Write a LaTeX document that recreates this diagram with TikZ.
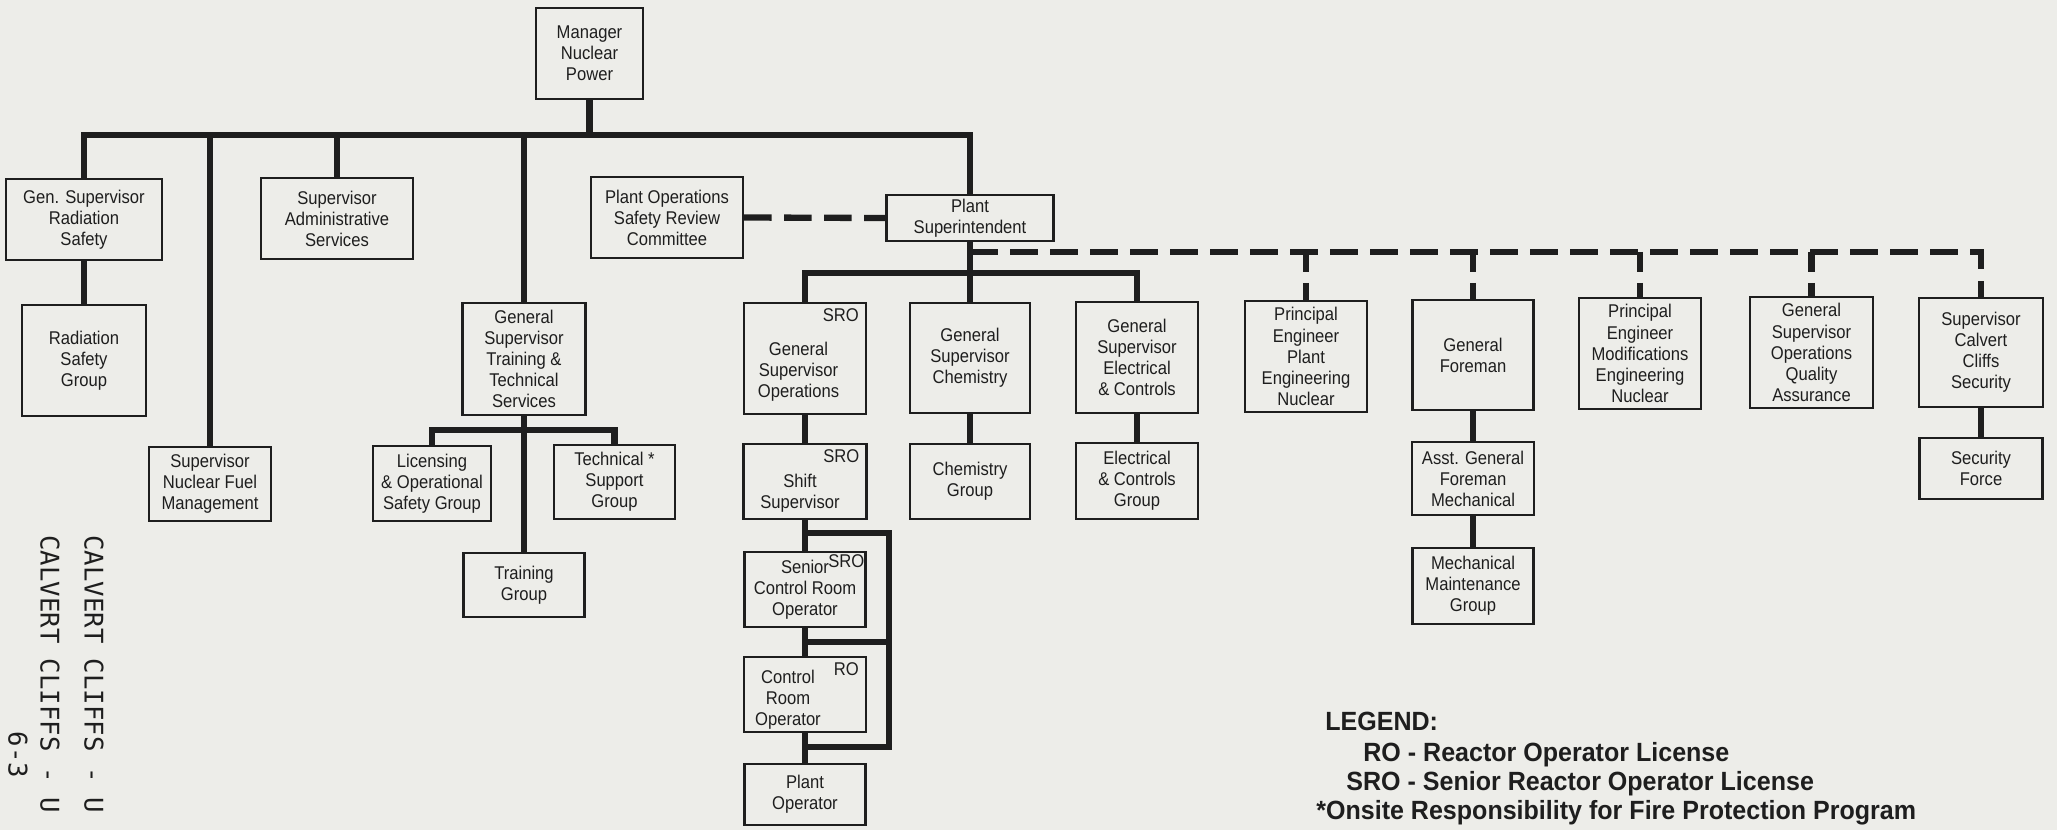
\documentclass[tikz,border=0pt]{standalone}
\usepackage{fontspec}
\setmainfont{Liberation Sans}
\newfontfamily\boxfont[FakeStretch=0.9]{Liberation Sans}
\newfontfamily\legendfont[FakeStretch=0.95]{Liberation Sans}
\newfontfamily\sidefont{DejaVu Sans Mono}
\usetikzlibrary{positioning}
\definecolor{ScanPaper}{HTML}{EDEDE9}
\definecolor{ScanInk}{HTML}{1E1E1E}
% text set lower (and to the left) inside its box
\newcommand{\offsetlines}[3]{\raisebox{-#1}[\height][\depth]{%
  \begin{tabular}{@{}c@{\hspace{#2}}}#3\end{tabular}}}

\begin{document}
\begin{tikzpicture}[x=0.2mm,y=-0.2mm,
    box/.style={draw=ScanInk,line width=1.3pt,align=center,inner sep=1pt,
      text=ScanInk,font=\boxfont\fontsize{10.5}{12}\selectfont},
    sz/.style 2 args={minimum width=#1*0.2mm,minimum height=#2*0.2mm},
    tag/.style={anchor=north east,inner sep=0pt,xshift=-1.6mm,yshift=-1.2mm,
      text=ScanInk,font=\boxfont\fontsize{10.5}{12}\selectfont},
    cornertag/.style={tag,xshift=1.2mm,yshift=0.6mm},
    link/.style={draw=ScanInk,line width=3.5pt},
    staffline/.style={draw=ScanInk,line width=3.6pt,dash pattern=on 5.5mm off 2.5mm},
    staffdrop/.style={draw=ScanInk,line width=3.6pt,dash pattern=on 4mm off 2.2mm},
    legendtext/.style={anchor=west,inner sep=0pt,text=ScanInk,
      font=\legendfont\bfseries\fontsize{15}{17}\selectfont},
    sidetext/.style={inner sep=0pt,text=ScanInk,font=\sidefont\fontsize{14.6}{16}\selectfont}]
    \useasboundingbox (0,0) rectangle (2057,830);
    \fill[ScanPaper] (0,0) rectangle (2057,830);

    % top of the chart
    \node[box,sz={107}{91}] (mgr) at (589.5,53.5) {Manager\\Nuclear\\Power};
    \node[box,sz={156}{81}] (gsrad) at (84,219.5) {Gen. Supervisor\\Radiation\\Safety};
    \node[box,sz={124}{111}] (radgrp) at (84,360.5) {Radiation\\Safety\\Group};
    \node[box,sz={122}{74}] (nucfuel) at (210,484) {Supervisor\\Nuclear Fuel\\Management};
    \node[box,sz={152}{81}] (admin) at (337,218.5) {Supervisor\\Administrative\\Services};
    \node[box,sz={123}{112}] (gstrain) at (524,359)
      {General\\Supervisor\\Training \&\\Technical\\Services};
    \node[box,sz={118}{75}] (licens) at (432,483.5) {Licensing\\\& Operational\\Safety Group};
    \node[box,sz={121}{74}] (techsup) at (614.5,482) {Technical *\\Support\\Group};
    \node[box,sz={121}{64}] (traingrp) at (524,585) {Training\\Group};
    \node[box,sz={152}{81}] (posrc) at (667,217.5) {Plant Operations\\Safety Review\\Committee};
    \node[box,sz={167}{46}] (plantsup) at (970,218) {Plant\\Superintendent};

    % plant superintendent line
    \node[box,sz={122}{111},label={[tag]north east:SRO}] (gsops) at (805,358.5)
      {\offsetlines{8pt}{2.6mm}{General\\Supervisor\\Operations}};
    \node[box,sz={120}{110}] (gschem) at (970,358) {General\\Supervisor\\Chemistry};
    \node[box,sz={122}{111}] (gselec) at (1137,357.5)
      {General\\Supervisor\\Electrical\\\& Controls};
    \node[box,sz={122}{111}] (peplant) at (1306,356.5)
      {Principal\\Engineer\\Plant\\Engineering\\Nuclear};
    \node[box,sz={121}{110}] (genfore) at (1473,355) {General\\Foreman};
    \node[box,sz={122}{111}] (pemod) at (1640,353.5)
      {Principal\\Engineer\\Modifications\\Engineering\\Nuclear};
    \node[box,sz={123}{111}] (gsqa) at (1811.5,352.5)
      {General\\Supervisor\\Operations\\Quality\\Assurance};
    \node[box,sz={124}{109}] (secsup) at (1981,352.5) {Supervisor\\Calvert\\Cliffs\\Security};

    \node[box,sz={123}{75},label={[tag]north east:SRO}] (shiftsup) at (805,481.5)
      {\offsetlines{7pt}{2mm}{Shift\\Supervisor}};
    \node[box,sz={120}{75}] (chemgrp) at (970,481.5) {Chemistry\\Group};
    \node[box,sz={122}{76}] (elecgrp) at (1137,481) {Electrical\\\& Controls\\Group};
    \node[box,sz={122}{73}] (asstfore) at (1473,478.5) {Asst. General\\Foreman\\Mechanical};
    \node[box,sz={121}{76}] (mechgrp) at (1473,586) {Mechanical\\Maintenance\\Group};
    \node[box,sz={123}{61}] (secforce) at (1981,468.5) {Security\\Force};
    \node[box,sz={121}{75},label={[cornertag]north east:SRO}] (srcro) at (805,589.5)
      {Senior\\Control Room\\Operator};
    \node[box,sz={122}{75},label={[tag]north east:RO}] (cro) at (805,694.5)
      {\offsetlines{3.5pt}{6.8mm}{Control\\Room\\Operator}};
    \node[box,sz={121}{61}] (plantop) at (805,794.5) {Plant\\Operator};

    % bus heights
    \coordinate (busy) at (0,135);
    \coordinate (staffy) at (0,252);
    \coordinate (opsbusy) at (0,273);
    \coordinate (trainbusy) at (0,430);
    \coordinate (ladtop) at (889,533);
    \coordinate (ladmid) at (889,642);
    \coordinate (ladbot) at (889,747);

    % solid lines
    \draw[link] (mgr.south) -- (mgr.south |- busy);
    \draw[link] (gsrad.north) -- (gsrad.north |- busy) -- (plantsup.north |- busy)
      -- (plantsup.north);
    \foreach \n in {nucfuel,admin,gstrain}
      \draw[link] (\n.north |- busy) -- (\n.north);
    \draw[link] (gstrain.south) -- (traingrp.north);
    \draw[link] (licens.north) -- (licens.north |- trainbusy) -- (techsup.north |- trainbusy)
      -- (techsup.north);
    \draw[link] (plantsup.south) -- (plantsup.south |- opsbusy);
    \draw[link] (gsops.north) -- (gsops.north |- opsbusy) -- (gselec.north |- opsbusy)
      -- (gselec.north);
    \draw[link] (gschem.north |- opsbusy) -- (gschem.north);
    \foreach \a/\b in {gsrad/radgrp,gsops/shiftsup,shiftsup/srcro,srcro/cro,cro/plantop,
        gschem/chemgrp,gselec/elecgrp,genfore/asstfore,asstfore/mechgrp,secsup/secforce}
      \draw[link] (\a.south) -- (\b.north);
    \draw[link] (shiftsup.south |- ladtop) -- (ladtop) -- (ladbot) -- (plantop.north |- ladbot);
    \draw[link] (srcro.south |- ladmid) -- (ladmid);

    % dashed lines
    \draw[staffline] (posrc.east) -- (plantsup.west);
    \draw[staffline] (plantsup.south |- staffy) -- (secsup.north |- staffy) -- (secsup.north);
    \foreach \n in {peplant,genfore,pemod,gsqa}
      \draw[staffdrop] (\n.north |- staffy) -- (\n.north);

    % legend
    \node[legendtext] (leghead) at (1325,721) {LEGEND:};
    \node[legendtext] (legro) at (1363,755) {RO - Reactor Operator License};
    \node[legendtext] (legsro) at (1346,784) {SRO - Senior Reactor Operator License};
    \node[legendtext] (legfire) at (1316,813) {*Onsite Responsibility for Fire Protection Program};

    % page margin text
    \node[sidetext,rotate=-90,anchor=west] (calv1) at (94,535) {CALVERT CLIFFS - U};
    \node[sidetext,rotate=-90,anchor=west] (calv2) at (50,535) {CALVERT CLIFFS - U};
    \node[sidetext,rotate=-90] (pageno) at (18,755) {6-3};
  \end{tikzpicture}
\end{document}
